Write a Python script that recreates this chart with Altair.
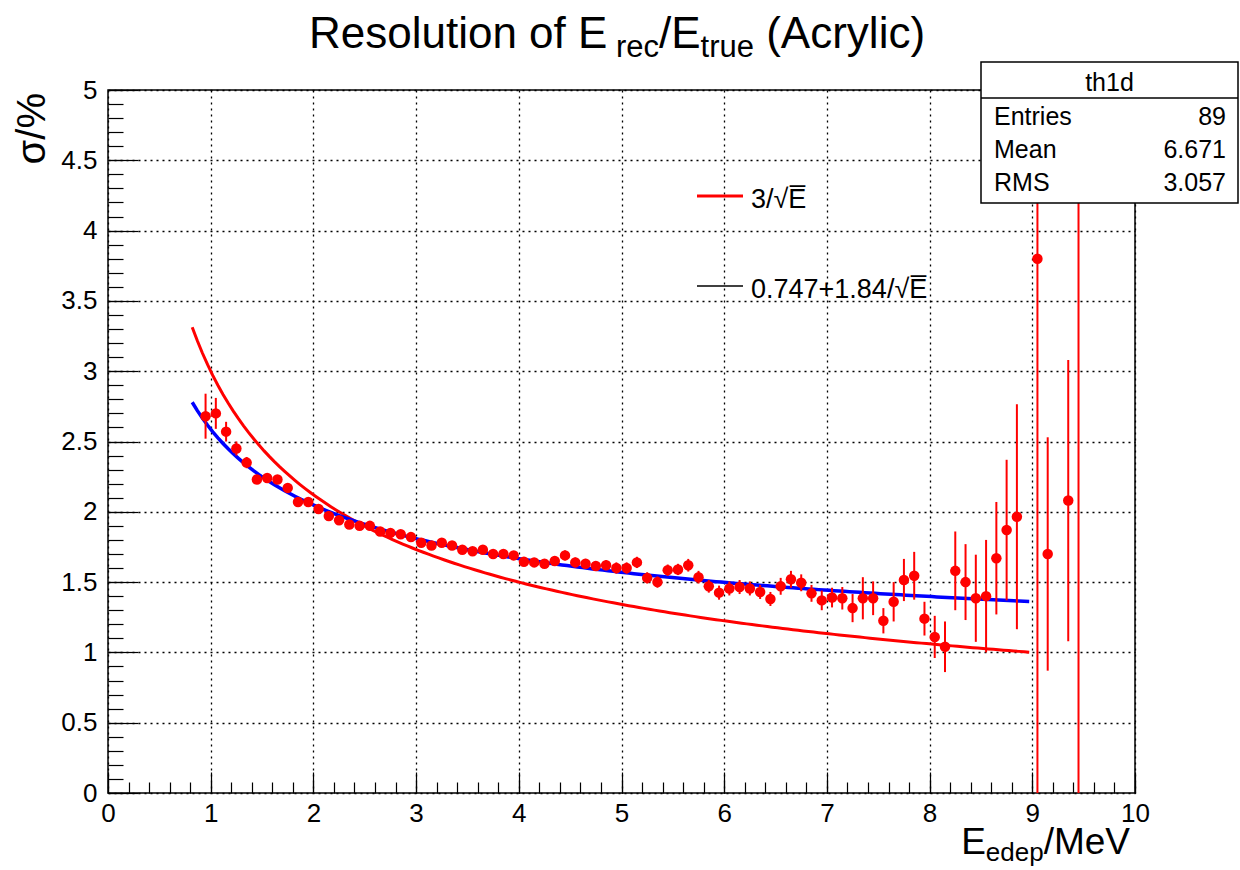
import altair as alt
import pandas as pd

# ---------------- data ----------------
E_centers = [0.95, 1.05, 1.15, 1.25, 1.35, 1.45, 1.55, 1.65, 1.75, 1.85,
             1.95, 2.05, 2.15, 2.25, 2.35, 2.45, 2.55, 2.65, 2.75, 2.85,
             2.95, 3.05, 3.15, 3.25, 3.35, 3.45, 3.55, 3.65, 3.75, 3.85,
             3.95, 4.05, 4.15, 4.25, 4.35, 4.45, 4.55, 4.65, 4.75, 4.85,
             4.95, 5.05, 5.15, 5.25, 5.35, 5.45, 5.55, 5.65, 5.75, 5.85,
             5.95, 6.05, 6.15, 6.25, 6.35, 6.45, 6.55, 6.65, 6.75, 6.85,
             6.95, 7.05, 7.15, 7.25, 7.35, 7.45, 7.55, 7.65, 7.75, 7.85,
             7.95, 8.05, 8.15, 8.25, 8.35, 8.45, 8.55, 8.65, 8.75, 8.85,
             9.05, 9.15, 9.35, 9.45]

sigma = [2.68, 2.70, 2.57, 2.45, 2.35, 2.23, 2.24, 2.23, 2.17, 2.07,
         2.07, 2.02, 1.97, 1.94, 1.91, 1.90, 1.90, 1.86, 1.85, 1.84,
         1.82, 1.78, 1.76, 1.78, 1.76, 1.73, 1.72, 1.73, 1.70, 1.70,
         1.69, 1.645, 1.64, 1.63, 1.65, 1.69, 1.64, 1.63, 1.615, 1.62,
         1.60, 1.60, 1.64, 1.53, 1.50, 1.585, 1.59, 1.62, 1.535, 1.47,
         1.425, 1.455, 1.465, 1.455, 1.43, 1.38, 1.47, 1.52, 1.495, 1.42,
         1.37, 1.39, 1.385, 1.315, 1.385, 1.385, 1.225, 1.36, 1.515, 1.545,
         1.24, 1.11, 1.04, 1.58, 1.50, 1.385, 1.40, 1.67, 1.87, 1.965,
         3.80, 1.70, 2.08, 5.30]

sigma_err = [0.16, 0.11, 0.07, 0.05, 0.04, 0.03, 0.03, 0.03, 0.03, 0.03,
             0.03, 0.03, 0.03, 0.03, 0.03, 0.03, 0.03, 0.03, 0.03, 0.03,
             0.03, 0.03, 0.03, 0.03, 0.03, 0.03, 0.03, 0.03, 0.03, 0.03,
             0.03, 0.03, 0.03, 0.03, 0.035, 0.035, 0.035, 0.035, 0.035, 0.035,
             0.04, 0.04, 0.04, 0.04, 0.04, 0.04, 0.04, 0.045, 0.045, 0.045,
             0.05, 0.05, 0.05, 0.05, 0.05, 0.05, 0.06, 0.06, 0.06, 0.06,
             0.07, 0.07, 0.08, 0.10, 0.15, 0.12, 0.09, 0.14, 0.15, 0.17,
             0.12, 0.15, 0.18, 0.28, 0.27, 0.31, 0.40, 0.40, 0.50, 0.80,
             4.00, 0.83, 1.00, 5.30]

# fitted / reference functions (as given in the legend)
red_coef = 3.0                        # 3/sqrt(E)
blue_const, blue_coef = 0.747, 1.84   # 0.747 + 1.84/sqrt(E)
func_range = (0.82, 9.0)

x_major = [0, 1, 2, 3, 4, 5, 6, 7, 8, 9, 10]
x_minor = [i / 5 for i in range(0, 51)]
y_major = [0, 0.5, 1, 1.5, 2, 2.5, 3, 3.5, 4, 4.5, 5]
y_minor = [i / 10 for i in range(0, 51)]

stat_labels = ["Entries", "Mean", "RMS"]
stat_values = ["89", "6.671", "3.057"]

# ---------------- layout ----------------
W, H = 1027, 703
PADL, PADT, PADR, PADB = 108, 90, 105, 77
FONT = "Liberation Sans"

df = pd.DataFrame({"E": E_centers, "sigma": sigma, "err": sigma_err})
df["lo"] = df["sigma"] - df["err"]
df["hi"] = df["sigma"] + df["err"]
one = pd.DataFrame({"a": [0]})

xs = alt.Scale(domain=[0, 10], nice=False, zero=False)
ys = alt.Scale(domain=[0, 5], nice=False, zero=False)

# Helvetica-like widths (per 1000 em)
WID = {'R': 722, 'e': 556, 's': 500, 'o': 556, 'l': 222, 'u': 556, 't': 278,
       'i': 222, 'n': 556, ' ': 278, 'f': 278, 'E': 667, 'r': 333, 'c': 500,
       '/': 278, 'A': 667, 'y': 500, '(': 333, ')': 333, 'd': 556, 'p': 556,
       'M': 833, 'V': 667}


def tw(s, size):
    return sum(WID.get(ch, 556) for ch in s) * size / 1000.0


def txt(s, x, y, size, align="left", baseline="alphabetic", angle=0, color="black"):
    return alt.Chart(one).mark_text(
        text=s, font=FONT, fontSize=size, align=align, baseline=baseline,
        angle=angle, color=color, clip=False
    ).encode(x=alt.value(x), y=alt.value(y))


LABEL_EXPR = "format(datum.value, '~r')"

# ---------- axes: labels + grid ----------
gx = alt.Axis(values=x_major, labelExpr=LABEL_EXPR, ticks=False, domain=False, grid=True,
              gridColor="black", gridDash=[2, 4], gridWidth=1.3, gridOpacity=1,
              labelFont=FONT, labelFontSize=26, labelColor="black", labelPadding=7,
              labelFlush=False, labelOverlap=False, title=None, orient="bottom")
gy = alt.Axis(values=y_major, labelExpr=LABEL_EXPR, ticks=False, domain=False, grid=True,
              gridColor="black", gridDash=[2, 4], gridWidth=1.3, gridOpacity=1,
              labelFont=FONT, labelFontSize=26, labelColor="black", labelPadding=11,
              labelFlush=False, labelOverlap=False, title=None, orient="left")

base = alt.Chart(df)

grid_layer = base.mark_point(opacity=0).encode(
    x=alt.X("E:Q", scale=xs, axis=gx),
    y=alt.Y("sigma:Q", scale=ys, axis=gy),
)


def tick_axis(vals, size, orient, offset):
    return alt.Axis(values=vals, ticks=True, tickSize=size, tickColor="black",
                    tickWidth=1.2, labels=False, domain=False, grid=False,
                    title=None, orient=orient, offset=offset)


xt_major = base.mark_point(opacity=0).encode(
    x=alt.X("E:Q", scale=xs, axis=tick_axis(x_major, 21, "top", -H)),
    y=alt.Y("sigma:Q", scale=ys, axis=None))
xt_minor = base.mark_point(opacity=0).encode(
    x=alt.X("E:Q", scale=xs, axis=tick_axis(x_minor, 11, "top", -H)),
    y=alt.Y("sigma:Q", scale=ys, axis=None))
yt_major = base.mark_point(opacity=0).encode(
    x=alt.X("E:Q", scale=xs, axis=None),
    y=alt.Y("sigma:Q", scale=ys, axis=tick_axis(y_major, 30, "right", -W)))
yt_minor = base.mark_point(opacity=0).encode(
    x=alt.X("E:Q", scale=xs, axis=None),
    y=alt.Y("sigma:Q", scale=ys, axis=tick_axis(y_minor, 15, "right", -W)))

# ---------- functions ----------
funcs = alt.Chart(alt.sequence(func_range[0], func_range[1] + 1e-6, 0.05, as_="E")).transform_calculate(
    red=f"{red_coef}/sqrt(datum.E)",
    blue=f"{blue_const}+{blue_coef}/sqrt(datum.E)",
)
red_line = funcs.mark_line(color="#ff0000", strokeWidth=3, clip=True).encode(
    x=alt.X("E:Q", scale=xs, axis=None), y=alt.Y("red:Q", scale=ys, axis=None))
blue_line = funcs.mark_line(color="#0000ff", strokeWidth=3.5, clip=True).encode(
    x=alt.X("E:Q", scale=xs, axis=None), y=alt.Y("blue:Q", scale=ys, axis=None))

# ---------- data points ----------
errbars = base.mark_rule(color="#ff0000", strokeWidth=2, clip=True).encode(
    x=alt.X("E:Q", scale=xs, axis=None),
    y=alt.Y("lo:Q", scale=ys, axis=None),
    y2="hi:Q")
points = base.mark_point(filled=True, shape="circle", size=110, color="#ff0000",
                         opacity=1, clip=True).encode(
    x=alt.X("E:Q", scale=xs, axis=None),
    y=alt.Y("sigma:Q", scale=ys, axis=None))

# ---------- legend ----------
leg_red = alt.Chart(one).mark_rule(color="#ff0000", strokeWidth=3).encode(
    x=alt.value(589), x2=alt.value(635), y=alt.value(106))
leg_black = alt.Chart(one).mark_rule(color="black", strokeWidth=1.5).encode(
    x=alt.value(589), x2=alt.value(635), y=alt.value(196))
leg_t1 = txt("3/\u221aE\u0305", 643, 118, 27)
leg_t2 = txt("0.747+1.84/\u221aE\u0305", 643, 208, 27)

# ---------- stats box ----------
bx0, bx1, by0, by1 = 873, 1130, -28, 113
box = alt.Chart(one).mark_rect(fill="white", stroke="black", strokeWidth=1.5, clip=False).encode(
    x=alt.value(bx0), x2=alt.value(bx1), y=alt.value(by0), y2=alt.value(by1))
box_sep = alt.Chart(one).mark_rule(color="black", strokeWidth=1.5, clip=False).encode(
    x=alt.value(bx0), x2=alt.value(bx1), y=alt.value(8))
stat_layers = [txt("th1d", (bx0 + bx1) / 2, 1, 25, align="center")]
for i, (lab, val) in enumerate(zip(stat_labels, stat_values)):
    yb = 35 + i * 33
    stat_layers.append(txt(lab, bx0 + 13, yb, 25))
    stat_layers.append(txt(val, bx1 - 12, yb, 25, align="right"))

# ---------- title (with subscripts) ----------
S, s = 44, 31
# (text, font size, baseline shift, leading gap as fraction of a space)
parts = [("Resolution of E", S, 0, 0), ("rec", s, 9, 1), ("/E", S, 0, 0),
         ("true", s, 9, 0), ("(Acrylic)", S, 0, 1)]
total = sum(tw(p, z) + g * tw(" ", z) for p, z, _, g in parts)
cx = 617 - PADL - total / 2
title_layers = []
for p, z, dy, g in parts:
    cx += g * tw(" ", z)
    title_layers.append(txt(p, cx, -42 + dy, z))
    cx += tw(p, z)

# ---------- x title ----------
XS, xs_sub = 37, 26
xr = 1130 - PADL
w3 = tw("/MeV", XS)
w2 = tw("edep", xs_sub)
xt_layers = [
    txt("/MeV", xr, 764, XS, align="right"),
    txt("edep", xr - w3, 771, xs_sub, align="right"),
    txt("E", xr - w3 - w2, 764, XS, align="right"),
]

# ---------- y title ----------
yt_layer = txt("\u03c3/%", -63, 3, 40, align="right", angle=270)

chart = alt.layer(
    grid_layer, xt_major, xt_minor, yt_major, yt_minor,
    red_line, blue_line, errbars, points,
    leg_red, leg_black, leg_t1, leg_t2,
    box, box_sep, *stat_layers,
    *title_layers, *xt_layers, yt_layer,
).resolve_axis(x="independent", y="independent").properties(
    width=W, height=H,
    padding={"left": PADL, "top": PADT, "right": PADR, "bottom": PADB},
    autosize=alt.AutoSizeParams(type="none"),
    background="white",
).configure_view(stroke="black", strokeWidth=1.5)

chart.save("out.html", embed_options={"renderer": "svg", "actions": False})
